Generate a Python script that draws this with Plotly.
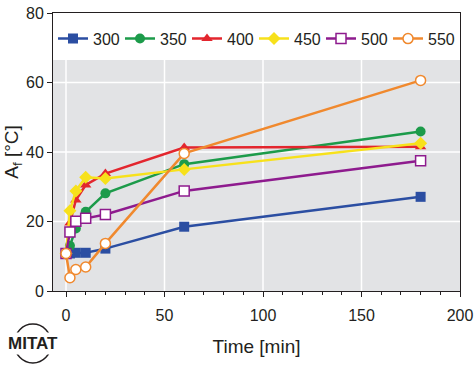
import plotly.graph_objects as go

times = [0, 2, 5, 10, 20, 60, 180]
series_names = ["300", "350", "400", "450", "500", "550"]
af_300 = [10.8, 10.8, 11.0, 11.0, 12.2, 18.5, 27.1]
af_350 = [10.8, 13.0, 18.0, 22.8, 28.1, 36.5, 45.9]
af_400 = [10.8, 19.6, 26.2, 30.5, 33.8, 41.3, 41.5]
af_450 = [10.8, 23.1, 28.8, 32.7, 32.4, 35.0, 42.5]
af_500 = [10.8, 17.0, 20.1, 20.9, 22.0, 28.8, 37.5]
af_550 = [10.8, 3.8, 6.2, 6.9, 13.7, 39.6, 60.6]

colors = ["#2b4ea2", "#1c9b4a", "#e3262e", "#f7e11b", "#8e1b8e", "#f0892e"]
symbols = ["square", "circle", "triangle-up", "diamond", "square", "circle"]
hollow = [False, False, False, False, True, True]
values = [af_300, af_350, af_400, af_450, af_500, af_550]

x_ticks = [0, 50, 100, 150, 200]
y_ticks = [0, 20, 40, 60, 80]
x_grid = [0, 50, 100, 150]
y_grid = [20, 40, 60]
gray_top = 66.5

font = "Liberation Sans, Arial, sans-serif"
txt = "#231f20"

fig = go.Figure()
for name, vals, c, s, h in zip(series_names, values, colors, symbols, hollow):
    fig.add_trace(go.Scatter(
        x=times, y=vals, name=name, mode="lines+markers",
        line=dict(color=c, width=2.5),
        marker=dict(symbol=s, size=10,
                    color="white" if h else c,
                    line=dict(color=c, width=1.5) if h else dict(width=0)),
    ))

fig.add_shape(type="rect", xref="paper", yref="y", x0=0, x1=1, y0=0, y1=gray_top,
              fillcolor="#e2e3e5", line=dict(width=0), layer="below")
for g in x_grid:
    fig.add_shape(type="line", xref="x", yref="y", x0=g, x1=g, y0=0, y1=gray_top,
                  line=dict(color="white", width=1.5), layer="below")
for g in y_grid:
    fig.add_shape(type="line", xref="paper", yref="y", x0=0, x1=1, y0=g, y1=g,
                  line=dict(color="white", width=1.5), layer="below")

# MITAT logo
fig.add_shape(type="circle", xref="paper", yref="paper", xsizemode="pixel", ysizemode="pixel",
              xanchor=-0.0495, yanchor=-0.1887, x0=-18.5, x1=18.5, y0=-19.5, y1=19.5,
              line=dict(color=txt, width=1.5))
fig.add_annotation(text="<b>MITAT</b>", xref="paper", yref="paper", x=-0.0495, y=-0.1887,
                   xanchor="center", yanchor="middle", showarrow=False,
                   font=dict(family=font, size=17, color=txt), bgcolor="white", borderpad=1)

fig.update_layout(
    width=474, height=370,
    margin=dict(l=53, r=14, t=13, b=79, autoexpand=False),
    paper_bgcolor="white", plot_bgcolor="white",
    font=dict(family=font, size=16, color=txt),
    showlegend=True,
    legend=dict(orientation="h", x=0, y=0.9076, xanchor="left", yanchor="middle",
                bgcolor="rgba(0,0,0,0)", entrywidth=22, entrywidthmode="pixels",
                font=dict(size=16), tracegroupgap=0, itemwidth=30),
    xaxis=dict(range=[-6.6, 200], tickvals=x_ticks, ticks="outside", ticklen=5,
               tickcolor=txt, showline=True, linecolor=txt, linewidth=1, mirror=True,
               showgrid=False, zeroline=False, automargin=False, ticklabelstandoff=5,
               minor=dict(dtick=10, tick0=0, ticks="outside", ticklen=3, tickcolor=txt, showgrid=False),
               title=dict(text="Time [min]", standoff=16)),
    yaxis=dict(range=[0, 80], tickvals=y_ticks, ticks="outside", ticklen=5,
               tickcolor=txt, showline=True, linecolor=txt, linewidth=1, mirror=True,
               showgrid=False, zeroline=False, automargin=False,
               title=dict(text="A<sub>f</sub> [°C]", standoff=2)),
)

fig.write_html("out.html", config={"displayModeBar": False},
               post_script="document.body.style.margin='0';")
